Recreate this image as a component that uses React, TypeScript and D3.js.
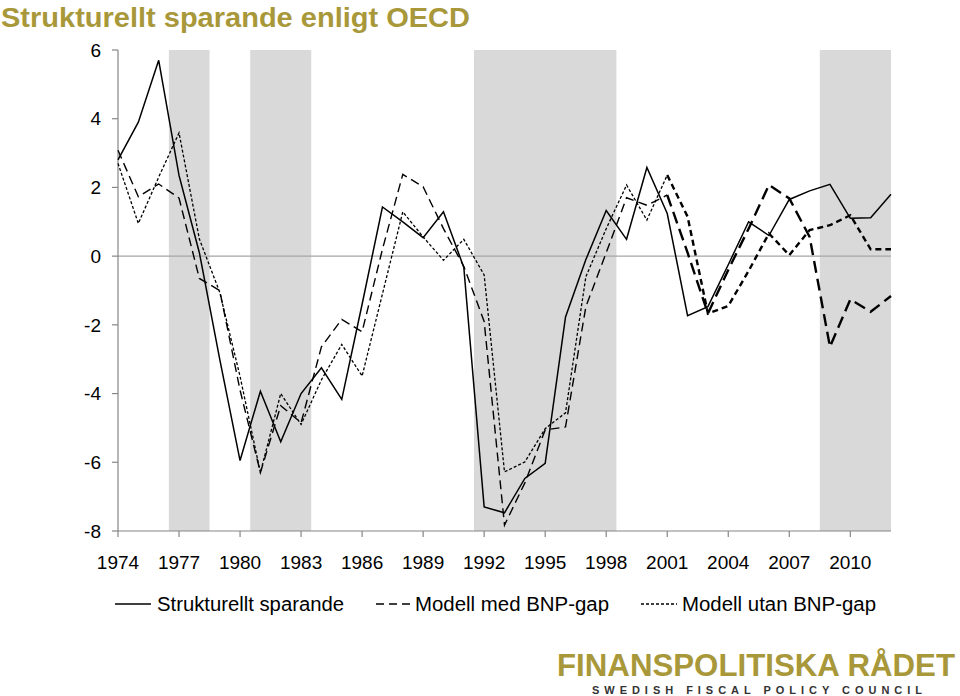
import React from "react";
import * as d3 from "d3";

const years: number[] = d3.range(1974, 2013);

const strukturellt: number[] = [
  2.8, 3.9, 5.7, 2.35, 0.1, -3.0, -5.95, -3.93, -5.4, -4.0,
  -3.25, -4.17, -1.4, 1.43, 1.0, 0.54, 1.29, -0.33, -7.3, -7.47,
  -6.47, -6.03, -1.77, -0.1, 1.33, 0.49, 2.58, 1.24, -1.73, -1.47,
  -0.25, 1.0, 0.6, 1.65, 1.9, 2.09, 1.1, 1.12, 1.8,
];

const modellMed: number[] = [
  3.08, 1.73, 2.1, 1.69, -0.65, -1.0, -3.9, -6.3, -4.35, -4.85,
  -2.64, -1.84, -2.2, 0.2, 2.38, 2.02, 0.8, -0.3, -1.9, -7.83,
  -6.6, -5.06, -4.97, -1.47, 0.1, 1.7, 1.48, 1.78, 0.1, -1.67,
  -0.4, 0.8, 2.07, 1.68, 0.56, -2.64, -1.26, -1.62, -1.16,
];

const modellUtan: number[] = [
  2.7, 0.95, 2.3, 3.59, 0.5, -1.05, -3.5, -6.3, -4.0, -4.9,
  -3.6, -2.57, -3.49, -1.1, 1.29, 0.56, -0.12, 0.49, -0.55, -6.28,
  -5.99, -5.02, -4.56, -0.6, 0.8, 2.07, 1.05, 2.36, 1.15, -1.67,
  -1.45, -0.43, 0.66, 0.03, 0.76, 0.9, 1.19, 0.2, 0.2,
];

const shadedPeriods: [number, number][] = [
  [1976.5, 1978.5],
  [1980.5, 1983.5],
  [1991.5, 1998.5],
  [2008.5, 2012],
];

const xTickYears: number[] = d3.range(1974, 2011, 3);
const yTickValues: number[] = d3.range(-8, 7, 2);

const legendLabels: string[] = [
  "Strukturellt sparande",
  "Modell med BNP-gap",
  "Modell utan BNP-gap",
];

const titleText = "Strukturellt sparande enligt OECD";
const logoText = "FINANSPOLITISKA RÅDET";
const logoSub = "SWEDISH FISCAL POLICY COUNCIL";

const GOLD = "#a8983a";
const SPLIT_YEAR = 2001;

export default function App() {
  const W = 960;
  const H = 696;
  const x = d3.scaleLinear().domain([1974, 2012]).range([118, 891]);
  const y = d3.scaleLinear().domain([-8, 6]).range([531, 50]);

  type P = { yr: number; v: number };
  const line = d3
    .line<P>()
    .x((d) => x(d.yr))
    .y((d) => y(d.v));

  const toPts = (vals: number[]): P[] => vals.map((v, i) => ({ yr: years[i], v }));
  const early = (vals: number[]) => toPts(vals).filter((p) => p.yr <= SPLIT_YEAR);
  const late = (vals: number[]) => toPts(vals).filter((p) => p.yr >= SPLIT_YEAR);

  const font = "'Liberation Sans', Arial, sans-serif";

  return (
    <svg
      width={W}
      height={H}
      style={{ position: "absolute", left: 0, top: 0, background: "#fff" }}
      fontFamily={font}
    >
      <text x={1} y={27} fontSize={28} fontWeight="bold" fill={GOLD} textLength={469} lengthAdjust="spacingAndGlyphs">
        {titleText}
      </text>

      {shadedPeriods.map(([a, b], i) => (
        <rect
          key={i}
          x={x(a)}
          y={y(6)}
          width={x(b) - x(a)}
          height={y(-8) - y(6)}
          fill="#d9d9d9"
        />
      ))}

      {/* zero line */}
      <line x1={x(1974)} x2={x(2012)} y1={y(0)} y2={y(0)} stroke="#a6a6a6" strokeWidth={1.2} />

      {/* y axis */}
      <line x1={x(1974)} x2={x(1974)} y1={y(6)} y2={y(-8)} stroke="#868686" strokeWidth={1.2} />
      {yTickValues.map((t) => (
        <g key={t}>
          <line x1={x(1974) - 6} x2={x(1974)} y1={y(t)} y2={y(t)} stroke="#868686" strokeWidth={1.2} />
          <text x={101} y={y(t)} dy="0.35em" textAnchor="end" fontSize={19} fill="#000">
            {t}
          </text>
        </g>
      ))}

      {/* x axis */}
      <line x1={x(1974)} x2={x(2012)} y1={y(-8)} y2={y(-8)} stroke="#868686" strokeWidth={1.2} />
      {xTickYears.map((t) => (
        <g key={t}>
          <line x1={x(t)} x2={x(t)} y1={y(-8)} y2={y(-8) + 6} stroke="#868686" strokeWidth={1.2} />
          <text x={x(t)} y={569} textAnchor="middle" fontSize={19} fill="#000">
            {t}
          </text>
        </g>
      ))}

      {/* series */}
      <path d={line(toPts(strukturellt)) || ""} fill="none" stroke="#000" strokeWidth={1.5} />
      <path d={line(early(modellMed)) || ""} fill="none" stroke="#000" strokeWidth={1.4} strokeDasharray="9,5" />
      <path d={line(late(modellMed)) || ""} fill="none" stroke="#000" strokeWidth={2.4} strokeDasharray="12,6" />
      <path d={line(early(modellUtan)) || ""} fill="none" stroke="#000" strokeWidth={1.3} strokeDasharray="3,2" />
      <path d={line(late(modellUtan)) || ""} fill="none" stroke="#000" strokeWidth={2.4} strokeDasharray="6,4" />

      {/* legend */}
      <g fontSize={20} fill="#000">
        <line x1={115} x2={151} y1={604} y2={604} stroke="#000" strokeWidth={1.5} />
        <text x={157} y={611} textLength={187} lengthAdjust="spacingAndGlyphs">{legendLabels[0]}</text>
        <line x1={376} x2={411} y1={604} y2={604} stroke="#000" strokeWidth={1.5} strokeDasharray="8,5" />
        <text x={415} y={611} textLength={194} lengthAdjust="spacingAndGlyphs">{legendLabels[1]}</text>
        <line x1={641} x2={677} y1={604} y2={604} stroke="#000" strokeWidth={1.3} strokeDasharray="3,2" />
        <text x={682} y={611} textLength={194} lengthAdjust="spacingAndGlyphs">{legendLabels[2]}</text>
      </g>

      {/* logo */}
      <text x={557} y={676} fontSize={31} fontWeight="bold" fill={GOLD} textLength={398} lengthAdjust="spacingAndGlyphs">
        {logoText}
      </text>
      <text x={592} y={694} fontSize={11} fontWeight="bold" fill="#333" textLength={330} lengthAdjust="spacing">
        {logoSub}
      </text>
    </svg>
  );
}
